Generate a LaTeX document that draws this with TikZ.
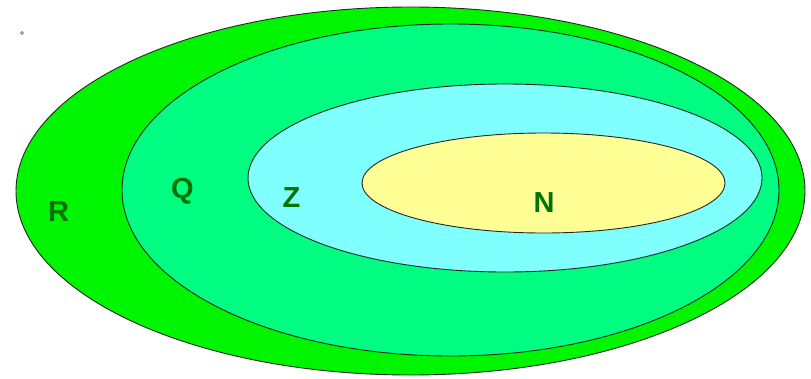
\documentclass[tikz,border=0pt]{standalone}
\usepackage{fontspec}
\setmainfont{Liberation Sans}
\usetikzlibrary{shapes.geometric}
\definecolor{rgreen}{RGB}{0,245,0}
\definecolor{qgreen}{RGB}{0,252,128}
\definecolor{zcyan}{RGB}{128,255,255}
\definecolor{nyellow}{RGB}{255,255,150}
\definecolor{labgreen}{RGB}{0,115,0}
\tikzset{
  setshape/.style={ellipse, draw=black!85, line width=0.9pt, inner sep=0pt},
  setlabel/.style={text=labgreen, font=\fontsize{29}{32}\selectfont\bfseries, inner sep=0pt}
}
\begin{document}
\begin{tikzpicture}[x=1pt,y=-1pt]
\useasboundingbox (0,0) rectangle (811,378);
\node[setshape, fill=rgreen, minimum width=789pt, minimum height=368pt] (R) at (410.5,191) {};
\node[setshape, fill=qgreen, minimum width=657pt, minimum height=332pt] (Q) at (450.5,190) {};
\node[setshape, fill=zcyan, minimum width=514pt, minimum height=188pt] (Z) at (505,178) {};
\node[setshape, fill=nyellow, minimum width=363pt, minimum height=100pt] (N) at (543.5,183) {};
\node[setlabel] (lR) at (58.5,211.5) {R};
\node[setlabel] (lQ) at (182.5,191) {Q};
\node[setlabel] (lZ) at (291.5,198) {Z};
\node[setlabel] (lN) at (544,202.5) {N};
\node[circle, draw=black!70, line width=0.6pt, minimum size=3pt, inner sep=0pt] (dot) at (22,33) {};
\end{tikzpicture}
\end{document}
